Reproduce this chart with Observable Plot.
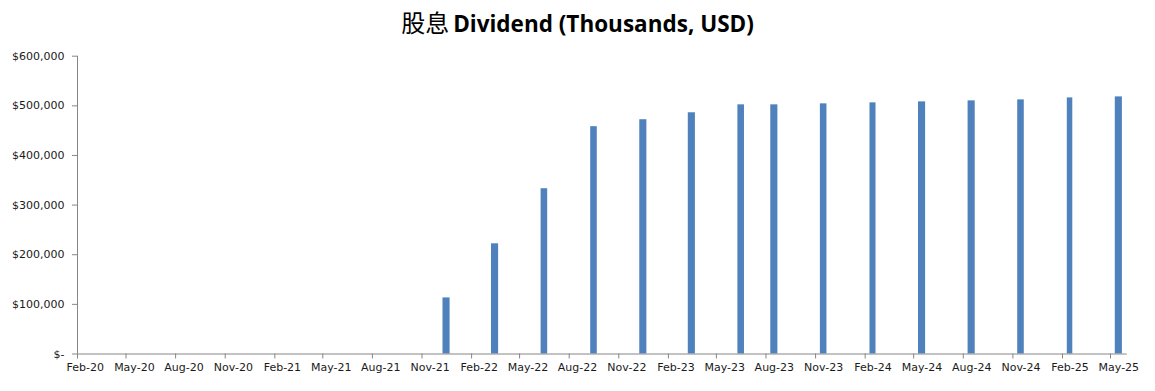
<!DOCTYPE html>
<html>
<head>
<meta charset="utf-8">
<script src="https://cdn.jsdelivr.net/npm/d3@7"></script>
<script src="https://cdn.jsdelivr.net/npm/@observablehq/plot@0.6"></script>
<style>
  body { margin: 0; background: #fff; }
  #title { height: 45px; width: 1155px; text-align: center; line-height: 44px; color: #000; white-space: nowrap; }
  #title .zh { font-family: "Noto Sans CJK SC", sans-serif; font-size: 24px; font-weight: 400; }
  #title .en { font-family: "Open Sans", sans-serif; font-size: 22.5px; font-weight: 700; }
</style>
</head>
<body>
<div id="title"><span class="zh">股息</span> <span class="en">Dividend (Thousands, USD)</span></div>
<div id="chart"></div>
<script>
// Data
const payMonths = ["Dec-21","Mar-22","Jun-22","Sep-22","Dec-22","Mar-23","Jun-23","Aug-23","Nov-23","Feb-24","May-24","Aug-24","Nov-24","Feb-25","May-25"];
const dividends = [113000, 222000, 333000, 458000, 472000, 486000, 502000, 502000, 504000, 506000, 508000, 510000, 512000, 516000, 518000];
const tickLabels = ["Feb-20","May-20","Aug-20","Nov-20","Feb-21","May-21","Aug-21","Nov-21","Feb-22","May-22","Aug-22","Nov-22","Feb-23","May-23","Aug-23","Nov-23","Feb-24","May-24","Aug-24","Nov-24","Feb-25","May-25"];
const yTicks = [0, 100000, 200000, 300000, 400000, 500000, 600000];

const parse = d3.utcParse("%b-%y");
const next = d => d3.utcMonth.offset(d, 1);
const mid = d => new Date((+d + +next(d)) / 2);

const data = payMonths.map((m, i) => ({date: parse(m), value: dividends[i]}));
const tickDates = tickLabels.map(parse);
const labelData = tickLabels.map(l => ({label: l, date: mid(parse(l))}));

const x0 = tickDates[0];
const x1 = next(tickDates[tickDates.length - 1]);

const yFmt = d => d === 0 ? "$-" : d3.format("$,")(d);

const chart = Plot.plot({
  width: 1155,
  height: 346,
  marginTop: 10.7,
  marginBottom: 37.5,
  marginLeft: 77,
  marginRight: 28.3,
  style: {fontFamily: "'DejaVu Sans', sans-serif", fontSize: "11px", color: "#1a1a1a", background: "#fff"},
  x: {type: "utc", domain: [x0, x1]},
  y: {domain: [0, 600000]},
  marks: [
    Plot.rectY(data, {x1: "date", x2: d => next(d.date), y: "value", fill: "#4F81BD", insetLeft: 4.8, insetRight: 4.8}),
    Plot.ruleY([0], {stroke: "#868686"}),
    Plot.ruleX([x0], {stroke: "#868686"}),
    Plot.axisY(yTicks, {tickSize: 5, tickPadding: 8, tickFormat: yFmt, stroke: "#868686", fill: "#1a1a1a", fontSize: 11, label: null}),
    Plot.axisX(tickDates, {tickSize: 5, tickFormat: () => "", stroke: "#868686", label: null}),
    Plot.text(labelData, {x: "date", text: "label", frameAnchor: "bottom", dy: 17, fill: "#1a1a1a", fontSize: 11})
  ]
});
document.getElementById("chart").appendChild(chart);
</script>
</body>
</html>
